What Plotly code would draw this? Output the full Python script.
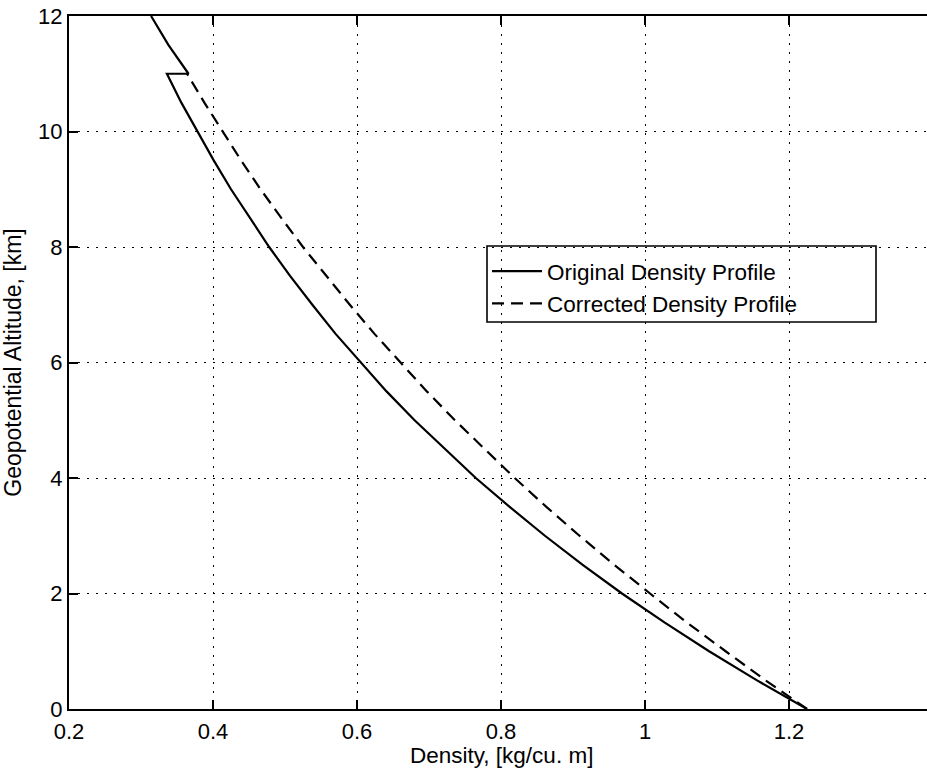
import plotly.graph_objects as go

# Original density profile (solid)
alt_original = [0.0, 0.5, 1.0, 1.5, 2.0, 2.5, 3.0, 3.5, 4.0, 4.5, 5.0, 5.5,
                6.0, 6.5, 7.0, 7.5, 8.0, 8.5, 9.0, 9.5, 10.0, 10.5, 11.0,
                11.0, 11.5, 12.0]
rho_original = [1.225, 1.155, 1.089, 1.027, 0.968, 0.913, 0.861, 0.812, 0.765,
                0.722, 0.680, 0.641, 0.605, 0.570, 0.538, 0.507, 0.478, 0.451,
                0.425, 0.401, 0.378, 0.356, 0.336,
                0.366, 0.338, 0.314]

# Corrected density profile (dashed)
alt_corrected = [0.0, 0.5, 1.0, 1.5, 2.0, 2.5, 3.0, 3.5, 4.0, 4.5, 5.0, 5.5,
                 6.0, 6.5, 7.0, 7.5, 8.0, 8.5, 9.0, 9.5, 10.0, 10.5, 11.0]
rho_corrected = [1.225, 1.167, 1.112, 1.058, 1.007, 0.957, 0.909, 0.863, 0.819,
                 0.777, 0.736, 0.697, 0.660, 0.624, 0.590, 0.557, 0.525, 0.495,
                 0.466, 0.439, 0.413, 0.388, 0.364]

x_ticks = [0.2, 0.4, 0.6, 0.8, 1.0, 1.2]
x_ticktext = ["0.2", "0.4", "0.6", "0.8", "1", "1.2"]
y_ticks = [0, 2, 4, 6, 8, 10, 12]

x_title = "Density, [kg/cu. m]"
y_title = "Geopotential Altitude, [km]"

FONT = "Liberation Sans, Arial, Helvetica, sans-serif"
TICK_FS = 22
TITLE_FS = 22.5

fig = go.Figure()
fig.add_trace(go.Scatter(
    x=rho_original, y=alt_original, mode="lines",
    name="Original Density Profile",
    line=dict(color="black", width=2.2),
))
fig.add_trace(go.Scatter(
    x=rho_corrected, y=alt_corrected, mode="lines",
    name="Corrected Density Profile",
    line=dict(color="black", width=2.2, dash="12px,7px"),
))

W, H = 927, 770
left, right, top, bottom = 69, 0, 16, 61
plot_w = W - left - right
plot_h = H - top - bottom
px_per_unit = 720.0
x_max = 0.2 + plot_w / px_per_unit


def px_x(px):
    return (px - left) / plot_w


def px_y(py):
    return (H - bottom - py) / plot_h


# legend frame (MATLAB-style wide box)
fig.add_shape(type="rect", xref="paper", yref="paper",
              x0=px_x(487), x1=px_x(876), y0=px_y(322), y1=px_y(246),
              line=dict(color="black", width=1.6), fillcolor="rgba(0,0,0,0)")

# x-axis title, centred under the full (partly cropped) axis
fig.add_annotation(text=x_title, xref="paper", yref="paper",
                   x=px_x(501), y=px_y(770), xanchor="center", yanchor="bottom",
                   showarrow=False,
                   font=dict(family=FONT, size=TITLE_FS, color="black"))

fig.update_layout(
    width=W, height=H,
    margin=dict(l=left, r=right, t=top, b=bottom, pad=0),
    paper_bgcolor="white", plot_bgcolor="white",
    font=dict(family=FONT, size=TICK_FS, color="black"),
    showlegend=True,
    legend=dict(
        x=px_x(487), y=px_y(250),
        xanchor="left", yanchor="top",
        bgcolor="rgba(0,0,0,0)", borderwidth=0,
        font=dict(family=FONT, size=22.5, color="black"),
        tracegroupgap=0, itemwidth=50,
    ),
    xaxis=dict(
        range=[0.2, x_max], autorange=False,
        tickvals=x_ticks, ticktext=x_ticktext,
        ticks="inside", ticklen=9, tickwidth=1.5, tickcolor="black",
        ticklabelstandoff=2,
        showline=True, linecolor="black", linewidth=2, mirror="ticks",
        showgrid=True, gridcolor="black", gridwidth=1, griddash="2px,7px",
        zeroline=False,
        tickfont=dict(family=FONT, size=TICK_FS),
    ),
    yaxis=dict(
        range=[0, 12], autorange=False,
        tickvals=y_ticks,
        ticks="inside", ticklen=9, tickwidth=1.5, tickcolor="black",
        showline=True, linecolor="black", linewidth=2, mirror=False,
        showgrid=True, gridcolor="black", gridwidth=1, griddash="2px,7px",
        zeroline=False,
        title=dict(text=y_title, standoff=11,
                   font=dict(family=FONT, size=23)),
        tickfont=dict(family=FONT, size=TICK_FS),
    ),
)

# remove the browser's default body margin so the figure fills the window exactly
fig.write_html(
    "out.html",
    config={"displayModeBar": False},
    post_script="document.body.style.margin='0';document.body.style.overflow='hidden';",
)
